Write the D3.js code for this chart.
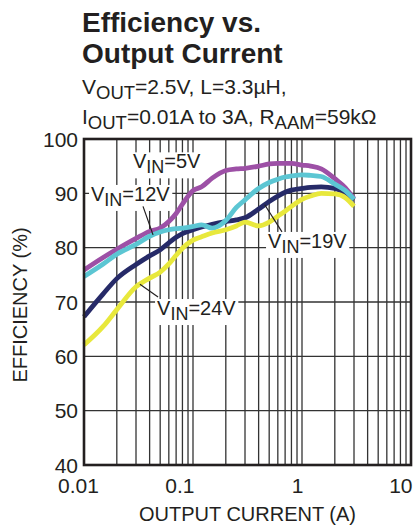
<!DOCTYPE html>
<html>
<head>
<meta charset="utf-8">
<script src="https://cdn.jsdelivr.net/npm/d3@7"></script>
<style>
  html, body { margin: 0; padding: 0; background: #fff; }
  svg { display: block; }
  text { font-family: "Liberation Sans", Arial, Helvetica, sans-serif; fill: #231f20; }
</style>
</head>
<body>
<svg id="chart" width="417" height="525"></svg>
<script>
// ---- data ----
const currents = [0.01, 0.015, 0.02, 0.03, 0.04, 0.05, 0.06, 0.07, 0.08, 0.1, 0.12, 0.15, 0.2, 0.25, 0.3, 0.4, 0.5, 0.6, 0.7, 0.8, 1, 1.2, 1.5, 2, 2.5, 3];
const eff5V  = [75.9, 78.2, 79.7, 81.7, 83.0, 83.6, 84.8, 86.3, 88.0, 90.5, 91.2, 92.8, 94.2, 94.5, 94.6, 95.0, 95.4, 95.5, 95.5, 95.5, 95.2, 95.0, 94.5, 92.7, 91.0, 89.0];
const eff12V = [74.7, 77.0, 78.8, 80.6, 82.1, 82.9, 83.3, 83.5, 83.6, 83.9, 84.2, 83.6, 85.0, 87.4, 88.8, 90.9, 92.0, 92.6, 93.0, 93.2, 93.4, 93.3, 93.1, 91.7, 90.5, 88.9];
const eff19V = [67.3, 71.5, 74.3, 76.9, 78.5, 79.6, 80.9, 81.9, 82.6, 83.3, 83.8, 84.3, 84.8, 85.1, 85.5, 87.1, 88.5, 89.5, 90.2, 90.6, 90.9, 91.1, 91.2, 90.9, 90.1, 88.8];
const eff24V = [62.1, 65.5, 68.6, 72.8, 74.4, 75.5, 77.0, 78.6, 79.9, 81.4, 82.0, 82.7, 83.3, 84.0, 84.7, 84.0, 84.7, 85.8, 86.7, 87.6, 88.9, 89.5, 90.0, 89.9, 89.2, 87.6];
const seriesNames = ["5V", "12V", "19V", "24V"];
const xTickValues = [0.01, 0.1, 1, 10];
const xTickLabels = ["0.01", "0.1", "1", "10"];
const yTickValues = [40, 50, 60, 70, 80, 90, 100];

// ---- layout ----
const svg = d3.select("#chart");
const plot = { left: 84, right: 411, top: 139, bottom: 465 };
const x = d3.scaleLog().domain([0.01, 10]).range([plot.left, plot.right]);
const y = d3.scaleLinear().domain([40, 100]).range([plot.bottom, plot.top]);

const colors = { "5V": "#9d50a6", "12V": "#5cc6d3", "19V": "#262a68", "24V": "#e8e83c" };
const seriesData = { "5V": eff5V, "12V": eff12V, "19V": eff19V, "24V": eff24V };
const drawOrder = ["5V", "19V", "12V", "24V"];

// ---- titles ----
const title = svg.append("g");
title.append("text").attr("x", 82).attr("y", 32).attr("font-size", 28).attr("font-weight", "bold").text("Efficiency vs.");
title.append("text").attr("x", 82).attr("y", 63).attr("font-size", 28).attr("font-weight", "bold").text("Output Current");

function subText(sel, parts, x0, y0, size, subSize) {
  const t = sel.append("text").attr("x", x0).attr("y", y0).attr("font-size", size);
  parts.forEach(p => {
    const ts = t.append("tspan").text(p.t);
    if (p.sub) ts.attr("font-size", subSize).attr("dy", 5);
    else if (p.after) ts.attr("dy", -5);
  });
  return t;
}
subText(svg, [{t: "V"}, {t: "OUT", sub: true}, {t: "=2.5V, L=3.3µH,", after: true}], 82, 94, 21, 18.5);
subText(svg, [{t: "I"}, {t: "OUT", sub: true}, {t: "=0.01A to 3A, R", after: true}, {t: "AAM", sub: true}, {t: "=59kΩ", after: true}], 82, 124, 21, 18.5);

// ---- grid ----
const minorX = [];
for (let d = -2; d <= 0; d++) for (let k = 1; k <= 9; k++) minorX.push(k * Math.pow(10, d));
minorX.push(10);
const grid = svg.append("g").attr("stroke", "#333").attr("stroke-width", 1.3);
grid.selectAll("line.v").data(minorX).join("line")
  .attr("x1", d => x(d)).attr("x2", d => x(d))
  .attr("y1", plot.top).attr("y2", plot.bottom);
grid.selectAll("line.h").data(yTickValues).join("line")
  .attr("x1", plot.left).attr("x2", plot.right)
  .attr("y1", d => y(d)).attr("y2", d => y(d));

// ---- axes labels ----
const yAxis = d3.axisLeft(y).tickValues(yTickValues).tickSize(0).tickPadding(6);
const yg = svg.append("g").attr("transform", `translate(${plot.left},0)`).call(yAxis);
yg.select(".domain").remove();
yg.selectAll("text").attr("font-size", 21).attr("fill", "#231f20")
  .attr("font-family", '"Liberation Sans", Arial, sans-serif').attr("dy", "0.34em");

const xAxis = d3.axisBottom(x).tickValues(xTickValues).tickFormat((d, i) => xTickLabels[i]).tickSize(0).tickPadding(0);
const xg = svg.append("g").attr("transform", `translate(0,${plot.bottom})`).call(xAxis);
xg.select(".domain").remove();
xg.selectAll("text").attr("font-size", 21).attr("fill", "#231f20")
  .attr("font-family", '"Liberation Sans", Arial, sans-serif')
  .attr("dy", 28).attr("y", 0)
  .attr("text-anchor", (d, i) => i === 0 ? "middle" : "end")
  .attr("dx", (d, i) => i === 0 ? -6 : 1);

svg.append("text").attr("x", (plot.left + plot.right) / 2).attr("y", 521)
  .attr("text-anchor", "middle").attr("font-size", 20).text("OUTPUT CURRENT (A)");
svg.append("text").attr("transform", `translate(27,${(plot.top + plot.bottom) / 2 + 3}) rotate(-90)`)
  .attr("text-anchor", "middle").attr("font-size", 20).text("EFFICIENCY (%)");

// ---- curves ----
const line = d3.line().x(d => x(d[0])).y(d => y(d[1])).curve(d3.curveMonotoneX);
const curves = svg.append("g");
drawOrder.forEach(name => {
  const pts = currents.map((c, i) => [c, seriesData[name][i]]);
  curves.append("path").datum(pts).attr("d", line)
    .attr("fill", "none").attr("stroke", colors[name]).attr("stroke-width", 4.8)
    .attr("stroke-linejoin", "round").attr("stroke-linecap", "butt");
});

// interpolate efficiency at a current (log-linear)
function effAt(name, c) {
  const vals = seriesData[name];
  for (let i = 0; i < currents.length - 1; i++) {
    if (c >= currents[i] && c <= currents[i + 1]) {
      const t = (Math.log(c) - Math.log(currents[i])) / (Math.log(currents[i + 1]) - Math.log(currents[i]));
      return vals[i] + t * (vals[i + 1] - vals[i]);
    }
  }
  return vals[vals.length - 1];
}

// ---- annotations ----
const annotations = [
  { name: "5V",  lx: 0.0281, ly: 94.6, leader: null },
  { name: "12V", lx: 0.0116, ly: 88.6, leader: { c: 0.043, to: [0.0348, 87.6] } },
  { name: "19V", lx: 0.488,  ly: 79.95, leader: { c: 0.455, to: [0.655, 82.9] } },
  { name: "24V", lx: 0.0468, ly: 67.6, leader: { c: 0.0326, to: [0.0478, 70.9] } }
];
const labelLayer = svg.append("g");
const leaderLayer = svg.append("g");
annotations.forEach(a => {
  const g = labelLayer.append("g");
  const t = g.append("text").attr("x", x(a.lx)).attr("y", y(a.ly)).attr("font-size", 20);
  t.append("tspan").text("V");
  t.append("tspan").text("IN").attr("font-size", 18).attr("dy", 5);
  t.append("tspan").text("=" + a.name).attr("dy", -5);
  const bb = t.node().getBBox();
  g.insert("rect", "text").attr("x", bb.x - 2).attr("y", bb.y + 2).attr("width", bb.width + 4).attr("height", bb.height - 1).attr("fill", "#fff");
  if (a.leader) {
    leaderLayer.append("line")
      .attr("x1", x(a.leader.c)).attr("y1", y(effAt(a.name, a.leader.c)))
      .attr("x2", x(a.leader.to[0])).attr("y2", y(a.leader.to[1]))
      .attr("stroke", "#231f20").attr("stroke-width", 1.2);
  }
});

// ---- frame ----
svg.append("rect").attr("x", plot.left).attr("y", plot.top)
  .attr("width", plot.right - plot.left).attr("height", plot.bottom - plot.top)
  .attr("fill", "none").attr("stroke", "#231f20").attr("stroke-width", 2.6);
</script>
</body>
</html>
